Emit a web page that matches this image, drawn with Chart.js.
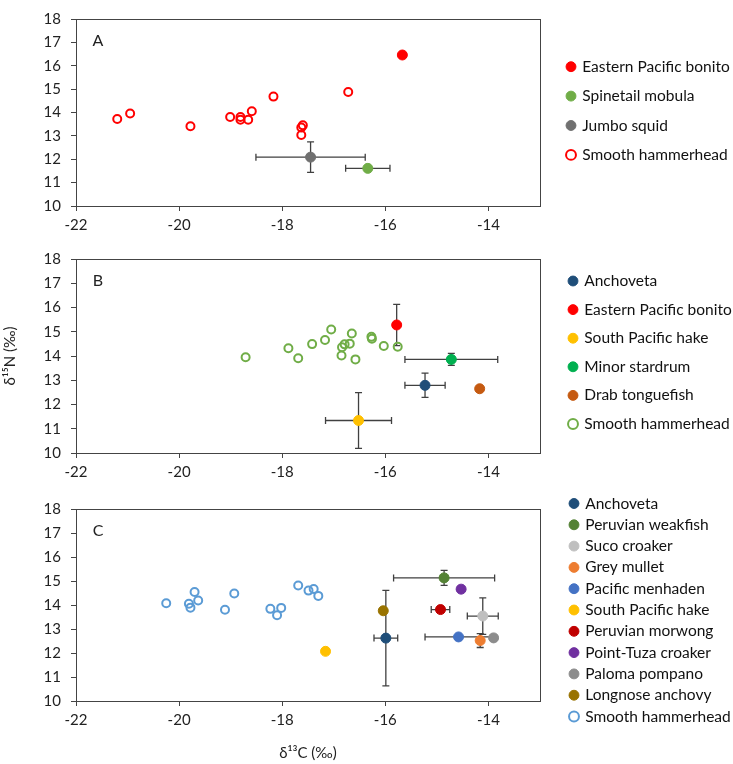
<!DOCTYPE html>
<html>
<head>
<meta charset="utf-8">
<script src="https://cdn.jsdelivr.net/npm/chart.js@4/dist/chart.umd.min.js"></script>
<style>
  body { margin: 0; background: #fff; }
  #wrap { position: relative; width: 733px; height: 764px; }
  canvas { position: absolute; left: 0; }
</style>
</head>
<body>
<div id="wrap">
  <canvas id="chartA" width="733" height="240" style="top:0px"></canvas>
  <canvas id="chartB" width="733" height="250" style="top:240px"></canvas>
  <canvas id="chartC" width="733" height="274" style="top:490px"></canvas>
</div>
<script>
// axes
var xTicks = [-22, -20, -18, -16, -14];
var yTicks = [10, 11, 12, 13, 14, 15, 16, 17, 18];

// PANEL A
var aSpecies = ['Eastern Pacific bonito', 'Spinetail mobula', 'Jumbo squid'];
var aColors = ['#FF0000', '#70AD47', '#707070'];
var aX = [-15.67, -16.34, -17.45];
var aY = [16.46, 11.61, 12.09];
var aXErr = [0, 0.43, 1.06];
var aYErr = [0, 0, 0.65];
var aHammerX = [-21.20, -20.95, -19.78, -19.01, -18.81, -18.81, -18.66, -18.59, -18.17, -17.60, -17.63, -17.63, -16.72];
var aHammerY = [13.72, 13.96, 13.41, 13.81, 13.81, 13.69, 13.69, 14.05, 14.68, 13.45, 13.36, 13.04, 14.88];

// PANEL B
var bSpecies = ['Anchoveta', 'Eastern Pacific bonito', 'South Pacific hake', 'Minor stardrum', 'Drab tonguefish'];
var bColors = ['#1F4E79', '#FF0000', '#FFC000', '#00B050', '#C55A11'];
var bX = [-15.23, -15.78, -16.52, -14.72, -14.17];
var bY = [12.79, 15.28, 11.34, 13.86, 12.65];
var bXErr = [0.39, 0, 0.64, 0.90, 0];
var bYErr = [0.50, 0.85, 1.15, 0.25, 0];
var bHammerX = [-18.71, -17.88, -17.69, -17.42, -17.17, -17.05, -16.85, -16.84, -16.79, -16.69, -16.65, -16.58, -16.27, -16.26, -16.03, -15.76];
var bHammerY = [13.95, 14.32, 13.91, 14.49, 14.66, 15.09, 14.02, 14.36, 14.48, 14.51, 14.93, 13.86, 14.79, 14.71, 14.41, 14.38];

// PANEL C
var cSpecies = ['Anchoveta', 'Peruvian weakfish', 'Suco croaker', 'Grey mullet', 'Pacific menhaden', 'South Pacific hake', 'Peruvian morwong', 'Point-Tuza croaker', 'Paloma pompano', 'Longnose anchovy'];
var cColors = ['#1F4E79', '#548235', '#BFBFBF', '#ED7D31', '#4472C4', '#FFC000', '#C00000', '#7030A0', '#8C8C8C', '#997300'];
var cX = [-15.99, -14.86, -14.11, -14.16, -14.58, -17.16, -14.93, -14.53, -13.90, -16.04];
var cY = [12.62, 15.13, 13.54, 12.52, 12.67, 12.07, 13.81, 14.66, 12.63, 13.76];
var cXErr = [0.23, 0.98, 0.30, 0, 0.65, 0, 0.18, 0, 0, 0];
var cYErr = [1.99, 0.31, 0.76, 0.29, 0, 0, 0, 0, 0, 0];
var cHammerX = [-20.25, -19.81, -19.78, -19.70, -19.63, -19.11, -18.93, -18.23, -18.10, -18.02, -17.69, -17.49, -17.39, -17.30];
var cHammerY = [14.07, 14.05, 13.89, 14.54, 14.19, 13.80, 14.48, 13.84, 13.57, 13.88, 14.81, 14.60, 14.67, 14.38];

var hammerLabel = 'Smooth hammerhead';
var xTitle = 'δ¹³C (‰)';
var yTitle = 'δ¹⁵N (‰)';

Chart.defaults.font.family = 'Lato, "Open Sans", sans-serif';
Chart.defaults.color = '#222';

// error bars drawn under the points
var errorBars = {
	id: 'errorBars',
	beforeDatasetsDraw: function(chart) {
		var ctx = chart.ctx;
		var xs = chart.scales.x, ys = chart.scales.y;
		var cap = 3.5;
		ctx.save();
		ctx.strokeStyle = '#404040';
		ctx.lineWidth = 1.3;
		chart.data.datasets.forEach(function(ds) {
			if (!ds.errX) return;
			for (var i = 0; i < ds.data.length; i++) {
				var p = ds.data[i];
				var px = xs.getPixelForValue(p.x), py = ys.getPixelForValue(p.y);
				if (ds.errX[i] > 0) {
					var x1 = xs.getPixelForValue(p.x - ds.errX[i]), x2 = xs.getPixelForValue(p.x + ds.errX[i]);
					ctx.beginPath();
					ctx.moveTo(x1, py); ctx.lineTo(x2, py);
					ctx.moveTo(x1, py - cap); ctx.lineTo(x1, py + cap);
					ctx.moveTo(x2, py - cap); ctx.lineTo(x2, py + cap);
					ctx.stroke();
				}
				if (ds.errY[i] > 0) {
					var y1 = ys.getPixelForValue(p.y - ds.errY[i]), y2 = ys.getPixelForValue(p.y + ds.errY[i]);
					ctx.beginPath();
					ctx.moveTo(px, y1); ctx.lineTo(px, y2);
					ctx.moveTo(px - cap, y1); ctx.lineTo(px + cap, y1);
					ctx.moveTo(px - cap, y2); ctx.lineTo(px + cap, y2);
					ctx.stroke();
				}
			}
		});
		ctx.restore();
	}
};

// box round the plot + panel letter
var frame = {
	id: 'frame',
	beforeDatasetsDraw: function(chart, args, opts) {
		var a = chart.chartArea, ctx = chart.ctx;
		ctx.save();
		ctx.strokeStyle = '#444';
		ctx.lineWidth = 1;
		ctx.strokeRect(Math.round(a.left) + 0.5, Math.round(a.top) + 0.5, Math.round(a.right - a.left), Math.round(a.bottom - a.top));
		ctx.fillStyle = '#222';
		ctx.font = '16px Lato, "Open Sans", sans-serif';
		ctx.textAlign = 'center';
		ctx.textBaseline = 'middle';
		ctx.fillText(opts.letter, a.left + 22, a.top + 22);
		ctx.restore();
	}
};

// move the legend next to the plot like in the figure
var placeLegend = {
	id: 'placeLegend',
	afterLayout: function(chart, args, opts) {
		var lg = chart.legend;
		var p = lg.options.labels.padding;
		var fs = lg.options.labels.font.size;
		lg.left = opts.x - p - 3.5;
		lg.right = chart.width;
		lg.top = opts.y - fs / 2 - p;
		lg.bottom = chart.height;
	}
};

function makePanel(id, letter, species, colors, xs, ys, xErr, yErr, hX, hY, hColor, opt) {
	var datasets = [];
	for (var k = 0; k < species.length; k++) {
		datasets.push({
			label: species[k],
			data: [{ x: xs[k], y: ys[k] }],
			errX: [xErr[k]],
			errY: [yErr[k]],
			backgroundColor: colors[k],
			borderColor: colors[k],
			borderWidth: 1,
			pointRadius: 5,
			pointStyle: 'circle'
		});
	}
	var hData = [];
	for (var k = 0; k < hX.length; k++) hData.push({ x: hX[k], y: hY[k] });
	datasets.push({
		label: hammerLabel,
		data: hData,
		backgroundColor: 'rgba(255,255,255,0)',
		borderColor: hColor,
		borderWidth: 2,
		pointRadius: 4,
		pointStyle: 'circle'
	});

	return new Chart(document.getElementById(id), {
		type: 'scatter',
		data: { datasets: datasets },
		plugins: [errorBars, frame, placeLegend],
		options: {
			responsive: false,
			animation: false,
			layout: { padding: { left: 0, top: opt.top, right: 43, bottom: 0 } },
			scales: {
				x: {
					type: 'linear',
					min: -22, max: -13,
					afterFit: function(s) { s.height = opt.xh; },
					afterBuildTicks: function(s) { s.ticks = xTicks.map(function(v) { return { value: v }; }); },
					grid: { drawOnChartArea: false, drawTicks: true, tickLength: 5, color: '#444' },
					border: { display: true, color: '#444' },
					ticks: { font: { size: 15 }, padding: 5, color: '#222' },
					title: { display: opt.xTitle, text: xTitle, font: { size: 15 }, padding: { top: 0, bottom: 2 }, color: '#222' }
				},
				y: {
					type: 'linear',
					min: 10, max: 18,
					afterFit: function(s) { s.width = 76; },
					afterBuildTicks: function(s) { s.ticks = yTicks.map(function(v) { return { value: v }; }); },
					grid: { drawOnChartArea: false, drawTicks: true, tickLength: 5, color: '#444' },
					border: { display: true, color: '#444' },
					ticks: { font: { size: 15 }, padding: 10, color: '#222' },
					title: { display: opt.yTitle, text: yTitle, font: { size: 15 }, padding: { top: 1, bottom: 0 }, color: '#222' }
				}
			},
			plugins: {
				tooltip: { enabled: false },
				frame: { letter: letter },
				placeLegend: { x: opt.lx, y: opt.ly },
				legend: {
					position: 'right',
					align: 'start',
					maxWidth: 150,
					labels: {
						usePointStyle: true,
						boxWidth: 7,
						boxHeight: 7,
						padding: opt.lp,
						font: { size: 15.5 },
						color: '#111'
					}
				}
			}
		}
	});
}

makePanel('chartA', 'A', aSpecies, aColors, aX, aY, aXErr, aYErr, aHammerX, aHammerY, '#FF0000',
	{ top: 7, xh: 34, lx: 571, ly: 66.7, lp: 13.9, xTitle: false, yTitle: false });
makePanel('chartB', 'B', bSpecies, bColors, bX, bY, bXErr, bYErr, bHammerX, bHammerY, '#70AD47',
	{ top: 14, xh: 37, lx: 573, ly: 41, lp: 13.1, xTitle: false, yTitle: true });
makePanel('chartC', 'C', cSpecies, cColors, cX, cY, cXErr, cYErr, cHammerX, cHammerY, '#5B9BD5',
	{ top: 13, xh: 63, lx: 574, ly: 13.5, lp: 5.8, xTitle: true, yTitle: false });
</script>
</body>
</html>
